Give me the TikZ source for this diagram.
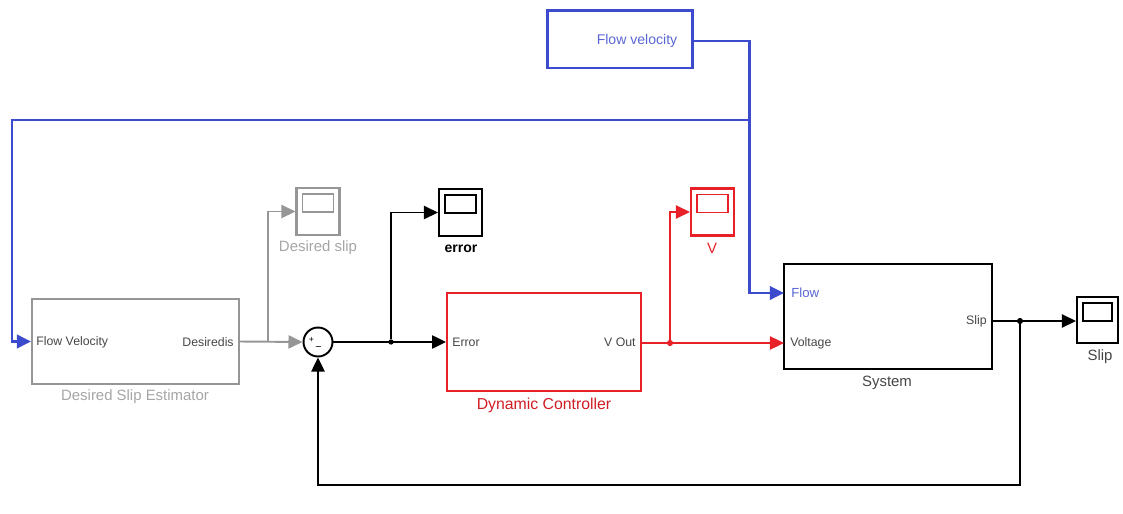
\documentclass[tikz,border=0pt]{standalone}
\usepackage{fontspec}
\setmainfont{Liberation Sans}
\usetikzlibrary{arrows.meta}
\definecolor{sigblue}{RGB}{60,75,205}
\definecolor{sigred}{RGB}{232,32,40}
\definecolor{siggray}{RGB}{150,150,150}
\definecolor{capgray}{RGB}{165,165,165}
\definecolor{portgray}{RGB}{70,70,70}
\begin{document}
\begin{tikzpicture}[x=0.02cm, y=-0.02cm,
  >={Triangle[length=8pt,width=7.5pt]},
  blk/.style={draw, line width=1.1pt, inner sep=0pt},
  port/.style={font=\fontsize{7}{8}\selectfont, inner sep=0pt, text=portgray},
  blkcap/.style={font=\fontsize{8.5}{10}\selectfont, inner sep=0pt},
  scopebox/.style={draw=#1, line width=1.2pt, minimum width=0.86cm,
    minimum height=0.94cm, inner sep=0pt,
    path picture={\draw[#1, line width=1pt]
      ([xshift=3.4pt,yshift=-3.4pt]path picture bounding box.north west) rectangle
      ([xshift=-3.4pt,yshift=-13.6pt]path picture bounding box.north east);}},
  scopebox/.default=black,
  wire/.style={line width=1.1pt},
  bluewire/.style={line width=1.7pt, draw=sigblue},
  dot/.style={circle, fill, inner sep=0pt, minimum size=3.5pt}]
  \useasboundingbox (0,0) rectangle (1123,514);

  % blocks
  \node[blk, draw=sigblue, line width=1.7pt, minimum width=2.92cm, minimum height=1.16cm] (flowsrc) at (620,39) {};
  \node[port, text=sigblue!85, font=\fontsize{8}{9}\selectfont] (flowtxt) at (637,41) {Flow velocity};

  \node[blk, draw=siggray, minimum width=4.14cm, minimum height=1.7cm] (est) at (135.5,341.5) {};
  \node[port, anchor=west] (estflowtxt) at (36,342) {Flow Velocity};
  \node[port, anchor=east] (estouttxt) at (234,342) {Desiredis};
  \node[blkcap, text=capgray] (estcap) at (135,397) {Desired Slip Estimator};

  \node[circle, draw, line width=1.1pt, minimum size=0.58cm, inner sep=0pt] (sum) at (318,342) {};
  \node[font=\fontsize{5}{5}\selectfont, inner sep=0pt] (sumplus) at (311.5,340) {+};
  \node[font=\fontsize{6}{6}\selectfont, inner sep=0pt] (summinus) at (318.5,349) {\textminus};

  \node[blk, draw=sigred, minimum width=3.88cm, minimum height=1.96cm] (dynctl) at (544,342) {};
  \node[port, anchor=west] (dynintxt) at (452,342) {Error};
  \node[port, anchor=east] (dynouttxt) at (636,342) {V Out};
  \node[blkcap, text=sigred!90!black, font=\fontsize{9}{10}\selectfont] (dyncap) at (544,405) {Dynamic Controller};

  \node[blk, minimum width=4.16cm, minimum height=2.1cm] (sys) at (888,316.5) {};
  \node[port, anchor=west, text=sigblue!85, font=\fontsize{7.5}{8}\selectfont] (sysflowtxt) at (791,293) {Flow};
  \node[port, anchor=west] (sysvolttxt) at (790,343) {Voltage};
  \node[port, anchor=east] (sysouttxt) at (987,321) {Slip};
  \node[blkcap, text=portgray] (syscap) at (887,383) {System};

  % scopes
  \node[scopebox=siggray] (dslip) at (318,211.5) {};
  \node[blkcap, text=capgray] (dslipcap) at (318,248) {Desired slip};
  \node[scopebox] (errscope) at (460.5,212.5) {};
  \node[blkcap, font=\fontsize{8}{9}\selectfont\bfseries] (errcap) at (461,249) {error};
  \node[scopebox=sigred] (vscope) at (712.5,212) {};
  \node[blkcap, text=sigred] (vcap) at (712,248) {V};
  \node[scopebox, minimum width=0.82cm, minimum height=0.92cm] (slipscope) at (1097.5,320) {};
  \node[blkcap, text=portgray] (slipcap) at (1100,357) {Slip};

  % ports and branch points
  \coordinate (bsplit) at (749,120);
  \coordinate (bleft) at (12,120);
  \coordinate (sysflow) at (784,293);
  \coordinate (sysvolt) at (784,343);
  \coordinate (sysslip) at (992,321);
  \coordinate (gsplit) at (268,342);
  \node[dot, minimum size=3pt] (esplit) at (391,342) {};
  \node[dot, sigred] (rsplit) at (670,343) {};
  \node[dot] (ssplit) at (1020,321) {};
  \coordinate (fbcorner) at (1020,485);

  % connectors
  \draw[bluewire] (flowsrc.east |- flowtxt) -| (bsplit);
  \draw[bluewire, ->, sigblue] (bsplit) -- (bleft) |- (est.west);
  \draw[bluewire, ->, sigblue] (bsplit) |- (sysflow);
  \draw[wire, siggray, ->] (est.east) -- (sum.west);
  \draw[wire, siggray, ->] (gsplit) |- (dslip.west);
  \draw[wire, ->] (sum.east) -- (dynctl.west);
  \draw[wire, ->] (esplit) |- (errscope.west);
  \draw[wire, sigred, ->] (dynctl.east |- rsplit) -- (sysvolt);
  \draw[wire, sigred, ->] (rsplit) |- (vscope.west);
  \draw[wire, ->] (sysslip) -- (slipscope.west |- sysslip);
  \draw[wire, ->] (ssplit) -- (fbcorner) -| (sum.south);
\end{tikzpicture}
\end{document}
